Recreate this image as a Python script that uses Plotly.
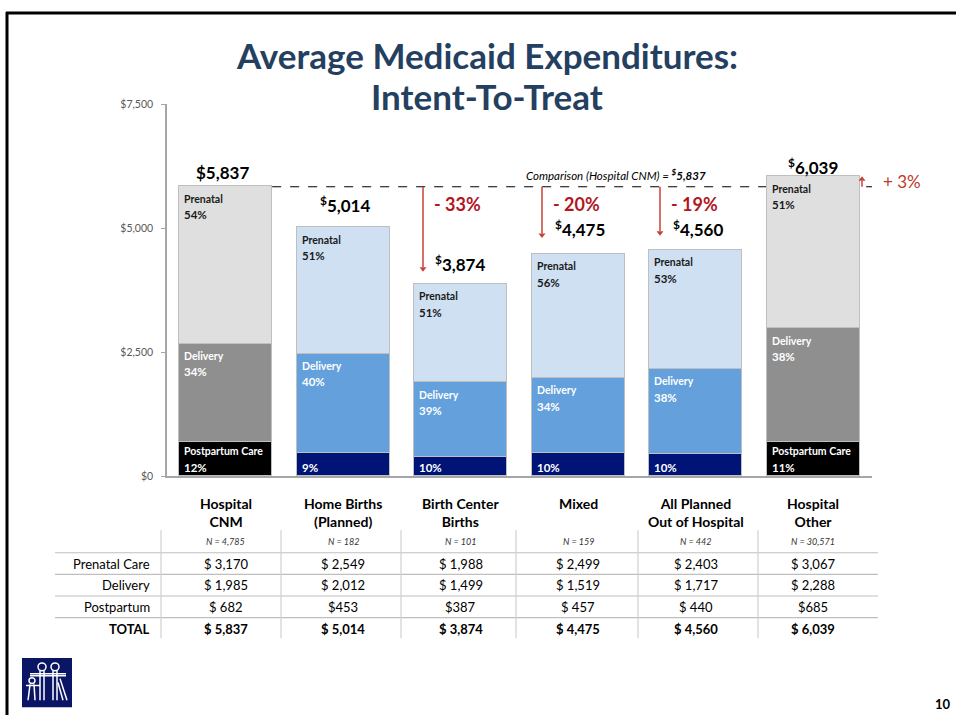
import plotly.graph_objects as go

# ---------------- data ----------------
categories = ["Hospital<br>CNM", "Home Births<br>(Planned)", "Birth Center<br>Births",
              "Mixed", "All Planned<br>Out of Hospital", "Hospital<br>Other"]
n_labels = ["N = 4,785", "N = 182", "N = 101", "N = 159", "N = 442", "N = 30,571"]
prenatal = [3170, 2549, 1988, 2499, 2403, 3067]
delivery = [1985, 2012, 1499, 1519, 1717, 2288]
postpartum = [682, 453, 387, 457, 440, 685]
totals = [5837, 5014, 3874, 4475, 4560, 6039]
change_labels = [None, None, "- 33%", "- 20%", "- 19%", "+ 3%"]
comparison_value = 5837
ytick_vals = [0, 2500, 5000, 7500]
ytick_text = ["$0", "$2,500", "$5,000", "$7,500"]
row_labels = ["Prenatal Care", "Delivery", "Postpartum", "TOTAL"]

# ---------------- style ----------------
W, H = 956, 721
PL, PR, PT, PB = 167, 872, 100, 478
YMAX = 7500
hospital = [True, False, False, False, False, True]
postpartum_gap = [True, False, False, True, True, False]
FONT = "Lato, 'Open Sans', sans-serif"
BAR_W = 0.79
RED = "#B0171F"
ARROW_RED = "#C8403A"

def xp(p):
    return p / W

def yp(p):
    return 1 - p / H

val_per_px = YMAX / (PB - PT)

pre_col = ["#DFDFDF" if h else "#CFE0F2" for h in hospital]
del_col = ["#8F8F8F" if h else "#63A0DC" for h in hospital]
post_col = ["#000000" if h else "#001478" for h in hospital]

x = list(range(len(categories)))
fig = go.Figure()
for vals, cols, name in [(postpartum, post_col, "Postpartum"),
                         (delivery, del_col, "Delivery"),
                         (prenatal, pre_col, "Prenatal")]:
    fig.add_trace(go.Bar(x=x, y=vals, name=name, width=BAR_W,
                         marker=dict(color=cols, line=dict(color="#BFBFBF", width=1.5)),
                         hoverinfo="skip", showlegend=False))

ann = []
shapes = []

# inside segment labels
for i in x:
    tot = prenatal[i] + delivery[i] + postpartum[i]
    lx = i - BAR_W / 2 + 3 / 117.5
    segs = [("Prenatal", prenatal[i], tot, "#1A1A1A"),
            ("Delivery", delivery[i], postpartum[i] + delivery[i], "#FFFFFF")]
    for nm, v, top, col in segs:
        pct = round(v / totals[i] * 100)
        ann.append(dict(x=lx, y=top, xref="x", yref="y", xanchor="left", yanchor="middle",
                        yshift=-12, text="<b>%s</b>" % nm, showarrow=False,
                        font=dict(family=FONT, size=10.5, color=col)))
        ann.append(dict(x=lx, y=top, xref="x", yref="y", xanchor="left", yanchor="middle",
                        yshift=-28, text="<b>%d%%</b>" % pct, showarrow=False,
                        font=dict(family=FONT, size=11.5, color=col)))
    pct = round(postpartum[i] / totals[i] * 100)
    if hospital[i]:
        ann.append(dict(x=lx, y=0, xref="x", yref="y", xanchor="left", yanchor="middle",
                        yshift=25, text="<b>Postpartum Care</b>", showarrow=False,
                        font=dict(family=FONT, size=10.5, color="#FFFFFF")))
    ann.append(dict(x=lx, y=0, xref="x", yref="y", xanchor="left", yanchor="middle",
                    yshift=9, text="<b>%d%%</b>" % pct, showarrow=False,
                    font=dict(family=FONT, size=11.5, color="#FFFFFF")))

# totals above bars
tot_yshift = [14, 23, 21, 26, 22, 10]
tot_xshift = [-3, 2, -1, 2, 2, 0]
for i in x:
    if i == 0:
        txt = "<b>$%s</b>" % format(totals[i], ",")
    else:
        txt = "<b><sup>$</sup>%s</b>" % format(totals[i], ",")
    ann.append(dict(x=i, y=totals[i], xref="x", yref="y", xanchor="center", yanchor="middle",
                    yshift=tot_yshift[i], xshift=tot_xshift[i], text=txt, showarrow=False,
                    font=dict(family=FONT, size=17, color="#000000")))

# comparison dashed line
shapes.append(dict(type="line", xref="x", yref="y", x0=BAR_W / 2, x1=5.57,
                   y0=comparison_value, y1=comparison_value, layer="below",
                   line=dict(color="#000000", width=1.2, dash="dash")))
ann.append(dict(x=4.1, y=comparison_value, xref="x", yref="y", xanchor="right", yanchor="middle",
                yshift=12, showarrow=False,
                text="<i>Comparison (Hospital CNM) = </i><b><i><sup>$</sup>%s</i></b>" % format(comparison_value, ","),
                font=dict(family=FONT, size=11.5, color="#000000")))

# change arrows (line shapes + triangle heads)
arrow_x_px = [None, None, 423, 542, 660, 862]
arrow_gap_px = [None, None, 13, 17, 15, 0]
head_x, head_y, head_sym = [], [], []
for i in x:
    if change_labels[i] is None:
        continue
    ax_data = (arrow_x_px[i] - PL) / 117.5 - 0.5
    tip = totals[i] + arrow_gap_px[i] * val_per_px
    down = totals[i] < comparison_value
    head_len = 4 * val_per_px
    line_end = tip + head_len if down else tip - head_len
    shapes.append(dict(type="line", xref="x", yref="y", x0=ax_data, x1=ax_data,
                       y0=comparison_value, y1=line_end,
                       line=dict(color=ARROW_RED, width=1.5)))
    head_x.append(ax_data)
    head_y.append(tip + (2.5 if down else -2.5) * val_per_px)
    head_sym.append("triangle-down" if down else "triangle-up")
    if down:
        ann.append(dict(x=ax_data, y=comparison_value, xref="x", yref="y", xanchor="left",
                        yanchor="middle", xshift=9, yshift=-17, showarrow=False,
                        text="<b>%s</b>" % change_labels[i],
                        font=dict(family=FONT, size=18, color=RED)))
    else:
        ann.append(dict(x=ax_data, y=comparison_value, xref="x", yref="y", xanchor="left",
                        yanchor="middle", xshift=19, yshift=5, showarrow=False,
                        text=change_labels[i],
                        font=dict(family=FONT, size=17, color="#C0392B")))
fig.add_trace(go.Scatter(x=head_x, y=head_y, mode="markers", hoverinfo="skip", showlegend=False,
                         marker=dict(symbol=head_sym, size=6, color=ARROW_RED, line=dict(width=0))))

# title
ann.append(dict(x=xp(487), y=yp(50), xref="paper", yref="paper", xanchor="center", yanchor="middle",
                text="<b>Average Medicaid Expenditures:</b>", showarrow=False,
                font=dict(family=FONT, size=35, color="#243F60")))
ann.append(dict(x=xp(487), y=yp(92), xref="paper", yref="paper", xanchor="center", yanchor="middle",
                text="<b>Intent-To-Treat</b>", showarrow=False,
                font=dict(family=FONT, size=35, color="#243F60")))

# table
for i in x:
    ann.append(dict(x=i, y=yp(495), xref="x", yref="paper", xanchor="center", yanchor="top",
                    text="<b>%s</b>" % categories[i], showarrow=False,
                    font=dict(family=FONT, size=14, color="#000000")))
    ann.append(dict(x=i, y=yp(545), xref="x", yref="paper", xanchor="center", yanchor="middle",
                    text="<i>%s</i>" % n_labels[i], showarrow=False,
                    font=dict(family=FONT, size=9, color="#333333")))
    col_vals = [prenatal[i], delivery[i], postpartum[i], totals[i]]
    for r, v in enumerate(col_vals):
        sep = "" if (r == 2 and not postpartum_gap[i]) else " "
        t = "$" + sep + format(v, ",")
        if r == 3:
            t = "<b>%s</b>" % t
        ann.append(dict(x=i, y=yp(567 + 22.3 * r), xref="x", yref="paper", xanchor="center",
                        yanchor="middle", text=t, showarrow=False,
                        font=dict(family=FONT, size=13, color="#000000")))
for r, lab in enumerate(row_labels):
    t = "<b>%s</b>" % lab if r == 3 else lab
    ann.append(dict(x=xp(152), y=yp(567 + 22.3 * r), xref="paper", yref="paper", xanchor="right",
                    yanchor="middle", text=t, showarrow=False,
                    font=dict(family=FONT, size=13, color="#000000")))

for ypx in [556, 578, 600, 622]:
    shapes.append(dict(type="line", xref="paper", yref="paper", x0=xp(55), x1=xp(878),
                       y0=yp(ypx), y1=yp(ypx), line=dict(color="#BFBFBF", width=1.2)))
for xpx in [161, 281, 401, 516, 638, 758]:
    shapes.append(dict(type="line", xref="paper", yref="paper", x0=xp(xpx), x1=xp(xpx),
                       y0=yp(533), y1=yp(643), line=dict(color="#D0D0D0", width=1.2)))

# slide frame
shapes.append(dict(type="line", xref="paper", yref="paper", x0=xp(6), x1=1, y0=yp(7), y1=yp(7),
                   line=dict(color="#000000", width=3)))
shapes.append(dict(type="line", xref="paper", yref="paper", x0=xp(7), x1=xp(7), y0=yp(6), y1=0,
                   line=dict(color="#000000", width=3)))

# logo
shapes.append(dict(type="rect", xref="paper", yref="paper", x0=xp(22), x1=xp(72), y0=yp(713), y1=yp(663),
                   fillcolor="#0B1565", line=dict(width=0)))
wl = dict(color="#FFFFFF", width=1.5)
def pline(x0, y0, x1, y1):
    shapes.append(dict(type="line", xref="paper", yref="paper", x0=xp(x0), x1=xp(x1),
                       y0=yp(y0), y1=yp(y1), line=wl))
def pcirc(cx, cy, r):
    shapes.append(dict(type="circle", xref="paper", yref="paper", x0=xp(cx - r), x1=xp(cx + r),
                       y0=yp(cy + r), y1=yp(cy - r), line=wl))
pcirc(42, 672, 4)
pcirc(55, 672, 4)
pline(30, 679, 66, 679)
pline(30, 681, 66, 681)
for xx in [40, 44, 53, 57]:
    pline(xx, 676, xx, 706)
pcirc(32, 686, 3)
pline(26, 691, 40, 691)
pline(30, 690, 28, 706)
pline(34, 690, 35, 706)
pline(58, 688, 63, 706)
pline(60, 684, 67, 706)

# page number
ann.append(dict(x=xp(943), y=yp(710), xref="paper", yref="paper", xanchor="center", yanchor="middle",
                text="<b>10</b>", showarrow=False, font=dict(family=FONT, size=13, color="#000000")))

fig.update_layout(
    width=W, height=H, autosize=False,
    margin=dict(l=0, r=0, t=0, b=0),
    paper_bgcolor="#FFFFFF", plot_bgcolor="#FFFFFF",
    barmode="stack", bargap=0,
    showlegend=False,
    xaxis=dict(domain=[xp(PL), xp(PR)], range=[-0.5, 5.5], showticklabels=False,
               showgrid=False, zeroline=False, showline=True, linecolor="#A6A6A6",
               linewidth=1.5, ticks="", fixedrange=True),
    yaxis=dict(domain=[yp(PB), yp(PT)], range=[0, YMAX], tickvals=ytick_vals, ticktext=ytick_text,
               showgrid=False, zeroline=False, showline=True, linecolor="#A6A6A6", linewidth=1.5,
               ticks="outside", ticklen=4, tickcolor="#A6A6A6", ticklabelstandoff=6,
               tickfont=dict(family=FONT, size=10.5, color="#595959"), fixedrange=True),
    annotations=ann, shapes=shapes,
)

fig.write_html("out.html", config={"displayModeBar": False},
               post_script="document.body.style.margin='0';document.body.style.overflow='hidden';")
